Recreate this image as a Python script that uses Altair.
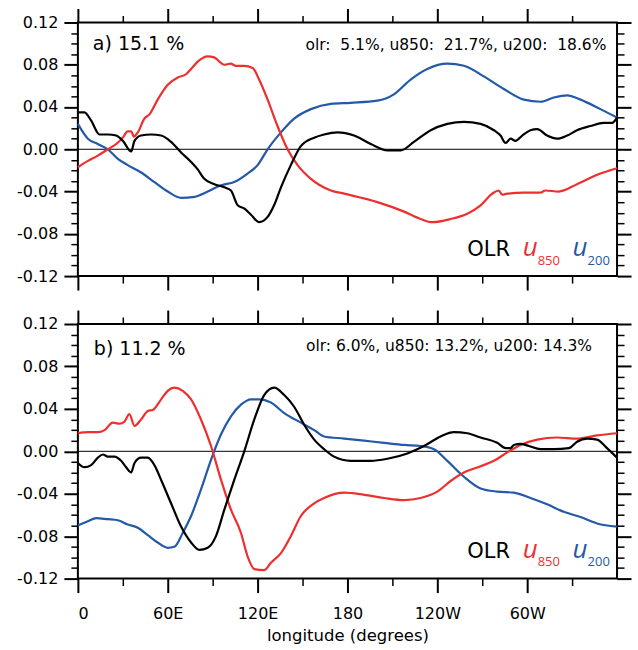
import altair as alt
import pandas as pd

# ---------------- data ----------------
# panel a
a_olr_lon = [0, 4.4, 8.9, 14.4, 20, 25.6, 30, 35.6, 37.8, 42.2, 48.9, 55.6, 62.2, 68.9, 75.6, 80, 84.4, 91.1,
             97.8, 102.2, 106.7, 111, 115.6, 121, 126.7, 131, 135.6, 142.2, 148.9, 157.8, 164.4, 173.3, 184.4,
             195.6, 206.7, 215.6, 224.4, 235.6, 246.7, 257.8, 268.9, 277.8, 282.2, 285.6, 288.9, 292.2, 296.7,
             302.2, 306.7, 313.3, 320, 326.7, 333.3, 342.2, 351.1, 356.7, 360]
a_olr_val = [0.035, 0.035, 0.027, 0.014, 0.014, 0.013, 0.008, -0.002, 0.008, 0.013, 0.014, 0.013, 0.007, -0.003,
             -0.012, -0.019, -0.028, -0.033, -0.036, -0.039, -0.053, -0.056, -0.062, -0.069, -0.064, -0.053,
             -0.036, -0.015, 0.003, 0.011, 0.014, 0.016, 0.013, 0.005, -0.001, -0.001, 0.007, 0.018, 0.024,
             0.026, 0.024, 0.018, 0.013, 0.006, 0.010, 0.008, 0.013, 0.018, 0.019, 0.013, 0.010, 0.013, 0.018,
             0.022, 0.025, 0.025, 0.030]

a_u850_lon = [0, 6.7, 13.3, 20, 25.6, 30, 33.3, 35.6, 37.3, 40, 44.4, 47.8, 53.3, 60, 66.7, 72.2, 75.6, 80, 86.7,
              91, 97.8, 102, 105.6, 111, 116.7, 121, 126.7, 133.3, 140, 146.7, 155.6, 168.9, 177.8, 200, 217.8,
              228.9, 236.7, 248.9, 260, 268.9, 276.7, 281, 283.3, 286.7, 297.8, 308.9, 312.2, 321, 333.3, 348.9,
              360]
a_u850_val = [-0.017, -0.011, -0.006, 0.000, 0.005, 0.011, 0.017, 0.017, 0.012, 0.016, 0.029, 0.033, 0.047,
              0.061, 0.068, 0.071, 0.076, 0.083, 0.088, 0.087, 0.080, 0.081, 0.079, 0.079, 0.077, 0.066, 0.047,
              0.022, 0.000, -0.015, -0.028, -0.039, -0.042, -0.050, -0.059, -0.066, -0.069, -0.066, -0.061,
              -0.053, -0.042, -0.039, -0.043, -0.042, -0.041, -0.041, -0.039, -0.040, -0.033, -0.023, -0.018]

a_u200_lon = [0, 6.7, 13.3, 20, 26.7, 33.3, 42.2, 51.1, 60, 68.9, 77.8, 86.7, 95.6, 104.4, 113.3, 120, 126.7,
              135.6, 144.4, 155.6, 168.9, 182.2, 200, 211, 222.2, 233.3, 246.7, 257.8, 271, 284.4, 297.8, 308.9,
              317.8, 326.7, 335.6, 348.9, 360]
a_u200_val = [0.024, 0.010, 0.005, 0.000, -0.009, -0.015, -0.022, -0.031, -0.040, -0.046, -0.045, -0.040,
              -0.034, -0.031, -0.023, -0.015, 0.000, 0.016, 0.029, 0.038, 0.043, 0.044, 0.046, 0.052, 0.066,
              0.076, 0.081, 0.079, 0.069, 0.057, 0.047, 0.045, 0.049, 0.051, 0.047, 0.038, 0.030]

# panel b
b_olr_lon = [0, 4.4, 8.9, 13.3, 16.7, 20, 24.4, 28.9, 32.2, 35.6, 37.8, 42.2, 46.7, 51.1, 55.6, 62.2, 68.9, 75.6,
             81.1, 86.7, 92.2, 97.8, 104.4, 111.1, 117.8, 124.4, 131.1, 137.8, 144.4, 151.1, 157.8, 164.4, 171.1,
             182.2, 195.6, 206.7, 220, 231.1, 242.2, 251.1, 260, 268.9, 280, 285.6, 288.9, 291.1, 295.6, 301.1,
             308.9, 317.8, 327.8, 333.3, 340, 346.7, 353.3, 360]
b_olr_val = [-0.011, -0.015, -0.013, -0.006, -0.003, -0.005, -0.005, -0.009, -0.015, -0.020, -0.011, -0.006,
             -0.006, -0.013, -0.027, -0.049, -0.071, -0.086, -0.093, -0.091, -0.080, -0.055, -0.027, 0.000,
             0.030, 0.053, 0.060, 0.053, 0.042, 0.025, 0.011, 0.002, -0.005, -0.009, -0.009, -0.007, -0.002,
             0.005, 0.014, 0.018, 0.017, 0.013, 0.008, 0.003, 0.003, 0.006, 0.007, 0.005, 0.002, 0.002, 0.003,
             0.009, 0.012, 0.011, 0.003, -0.006]

b_u850_lon = [0, 6.7, 13.3, 17.8, 23.3, 27.8, 31.1, 34.4, 37.8, 42.2, 46.7, 50, 55.6, 60, 64.4, 70, 75.6, 82.2,
              88.9, 95.6, 102.2, 108.9, 113.3, 117.8, 124.4, 128.9, 135.6, 142.2, 148.9, 157.8, 164.4, 177.8,
              191.1, 204.4, 217.8, 228.9, 240, 248.9, 257.8, 268.9, 277.8, 286.7, 295.6, 306.7, 320, 333.3,
              346.7, 360]
b_u850_val = [0.017, 0.018, 0.018, 0.020, 0.027, 0.026, 0.028, 0.035, 0.024, 0.030, 0.038, 0.039, 0.049, 0.057,
              0.060, 0.057, 0.049, 0.030, 0.005, -0.027, -0.055, -0.077, -0.099, -0.111, -0.112, -0.105, -0.096,
              -0.080, -0.061, -0.049, -0.044, -0.039, -0.041, -0.044, -0.046, -0.044, -0.038, -0.028, -0.020,
              -0.014, -0.009, -0.001, 0.006, 0.011, 0.013, 0.012, 0.015, 0.017]

b_u200_lon = [0, 6.7, 12.2, 20, 26.7, 33.3, 40, 46.7, 53.3, 60, 64.4, 70, 75.6, 82.2, 88.9, 95.6, 102.2, 108.9,
              115.6, 121.1, 128.9, 137.8, 148.9, 157.8, 164.4, 177.8, 191.1, 204.4, 217.8, 228.9, 237.8, 246.7,
              257.8, 268.9, 280, 291.1, 302.2, 313.3, 324.4, 335.6, 346.7, 360]
b_u200_val = [-0.070, -0.066, -0.063, -0.064, -0.065, -0.069, -0.072, -0.079, -0.086, -0.091, -0.090, -0.077,
              -0.061, -0.036, -0.008, 0.016, 0.033, 0.044, 0.049, 0.049, 0.046, 0.036, 0.027, 0.020, 0.014,
              0.012, 0.010, 0.008, 0.006, 0.005, 0.002, -0.009, -0.024, -0.035, -0.038, -0.039, -0.044, -0.050,
              -0.057, -0.062, -0.068, -0.071]

SERIES = ["OLR", "u850", "u200"]
COLORS = ["#000000", "#ee2f2f", "#2459a8"]

NB = "\u00a0"  # keeps the double spaces of the original text visible
PANEL_TAGS = ["a) 15.1 %", "b) 11.2 %"]
PANEL_STATS = ["olr:" + NB * 2 + "5.1%, u850:" + NB * 2 + "21.7%, u200:" + NB * 2 + "18.6%",
               "olr: 6.0%, u850: 13.2%, u200: 14.3%"]
LEGEND_NAME = "OLR"
LEGEND_U = "u"
LEGEND_SUBS = ["850", "200"]

LON_TICKS = [0, 60, 120, 180, 240, 300]
LON_MINOR = [30, 90, 150, 210, 270, 330]
Y_TICKS = [-0.12, -0.08, -0.04, 0.0, 0.04, 0.08, 0.12]
Y_MINOR = [round(i * 0.01, 2) for i in range(-12, 13) if i % 4 != 0]
X_TITLE = "longitude (degrees)"

FONT = "DejaVu Sans"
W = 540


def make_df(items):
    rows = []
    for name, lons, vals in items:
        for lo, v in zip(lons, vals):
            rows.append({"series": name, "lon": lo, "value": v})
    return pd.DataFrame(rows)


df_a = make_df([("u200", a_u200_lon, a_u200_val), ("u850", a_u850_lon, a_u850_val), ("OLR", a_olr_lon, a_olr_val)])
df_b = make_df([("u200", b_u200_lon, b_u200_val), ("u850", b_u850_lon, b_u850_val), ("OLR", b_olr_lon, b_olr_val)])

XS = alt.Scale(domain=[0, 360], nice=False, zero=False)
YS = alt.Scale(domain=[-0.12, 0.12], nice=False, zero=False)
LON_EXPR = ("datum.value == 0 ? '0' : datum.value < 180 ? datum.value + 'E' : "
            "datum.value == 180 ? '180' : (360 - datum.value) + 'W'")
Y_EXPR = "(datum.value < 0 ? '-' : '') + format(abs(datum.value), '.2f')"


def text_layer(txt, x, y, size, color="black", align="left", font=FONT, style="normal"):
    return alt.Chart(pd.DataFrame({"t": [txt]})).mark_text(
        align=align, baseline="alphabetic", font=font, fontSize=size, color=color, fontStyle=style
    ).encode(x=alt.value(x), y=alt.value(y), text="t:N")


def panel(df, height, tag, tag_x, tag_y, stats, stats_x, stats_y, bottom):
    if bottom:
        xmain_axis = alt.Axis(orient="bottom", values=LON_TICKS, labelExpr=LON_EXPR, title=X_TITLE,
                              tickSize=14, tickWidth=2, labelPadding=13, titlePadding=6, domain=False, grid=False,
                              labelFontSize=16, titleFontSize=16.5, titleFontWeight="normal", titleFont=FONT)
    else:
        xmain_axis = alt.Axis(orient="bottom", values=LON_TICKS, labels=False, title=None,
                              tickSize=14, tickWidth=2, domain=False, grid=False)
    lines = alt.Chart(df).mark_line(strokeWidth=2.2, interpolate="monotone").encode(
        x=alt.X("lon:Q", scale=XS, axis=xmain_axis),
        y=alt.Y("value:Q", scale=YS, axis=alt.Axis(orient="left", values=Y_TICKS, labelExpr=Y_EXPR, title=None,
                                                    tickSize=14, tickWidth=2, labelPadding=6, domain=False,
                                                    grid=False, labelFontSize=16)),
        color=alt.Color("series:N", scale=alt.Scale(domain=SERIES, range=COLORS), legend=None),
        detail="series:N",
    )

    def carrier(xorient, xvals, xsize, yorient, yvals, ysize, width):
        return alt.Chart(df).mark_line(opacity=0).encode(
            x=alt.X("lon:Q", scale=XS, axis=alt.Axis(orient=xorient, values=xvals, labels=False, title=None,
                                                     tickSize=xsize, tickWidth=width, domain=False, grid=False)),
            y=alt.Y("value:Q", scale=YS, axis=alt.Axis(orient=yorient, values=yvals, labels=False, title=None,
                                                       tickSize=ysize, tickWidth=width, domain=False,
                                                       grid=False)),
            detail="series:N",
        )

    c1 = carrier("bottom", LON_MINOR, 7, "left", Y_MINOR, 7, 1.5)
    c2 = carrier("top", LON_TICKS, 14, "right", Y_TICKS, 14, 2)
    c3 = carrier("top", LON_MINOR, 7, "right", Y_MINOR, 7, 1.5)

    zero = alt.Chart(pd.DataFrame({"zero": [0.0]})).mark_rule(color="black", strokeWidth=1).encode(
        y=alt.Y("zero:Q", scale=YS, axis=None)
    )

    texts = [
        text_layer(tag, tag_x, tag_y, 19),
        text_layer(stats, stats_x, stats_y, 15.5, align="right"),
        text_layer(LEGEND_NAME, 390, 234, 21),
        text_layer(LEGEND_U, 445.5, 234, 26, color=COLORS[1], font="Open Sans", style="italic"),
        text_layer(LEGEND_SUBS[0], 460.5, 242.6, 13, color=COLORS[1], font="Open Sans"),
        text_layer(LEGEND_U, 495.5, 234, 26, color=COLORS[2], font="Open Sans", style="italic"),
        text_layer(LEGEND_SUBS[1], 510.5, 242.6, 13, color=COLORS[2], font="Open Sans"),
    ]

    return alt.layer(zero, lines, c1, c2, c3, *texts).resolve_axis(
        x="independent", y="independent"
    ).properties(width=W, height=height)


pa = panel(df_a, 254, PANEL_TAGS[0], 15, 27.6, PANEL_STATS[0], 529.3, 27.6, False)
pb = panel(df_b, 255, PANEL_TAGS[1], 16, 30.7, PANEL_STATS[1], 515, 27.3, True)

chart = alt.vconcat(pa, pb, spacing=16).properties(
    padding={"left": 15, "top": 6, "right": 5, "bottom": 3}
).configure_view(stroke="black", strokeWidth=2).configure_axis(
    labelFont=FONT, titleFont=FONT, labelColor="black", titleColor="black", tickColor="black"
)

chart.save("out.html", embed_options={"renderer": "svg", "actions": False})
